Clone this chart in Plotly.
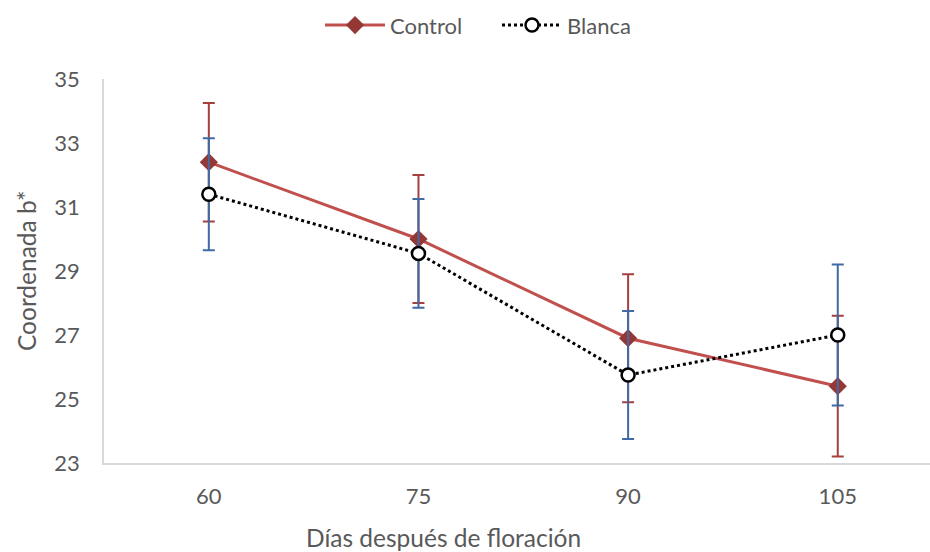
import plotly.graph_objects as go

dias = ["60", "75", "90", "105"]
control = [32.4, 30.0, 26.9, 25.4]
control_err = [1.85, 2.0, 2.0, 2.2]
blanca = [31.4, 29.55, 25.75, 27.0]
blanca_err = [1.75, 1.7, 2.0, 2.2]
y_ticks = [23, 25, 27, 29, 31, 33, 35]

FONT = "Lato"
GRAY = "#595959"

fig = go.Figure()
fig.add_trace(go.Scatter(
    x=dias, y=control, name="Control", mode="lines+markers",
    line=dict(color="#C0504D", width=3),
    marker=dict(symbol="diamond", size=14, color="#953735"),
    error_y=dict(type="data", array=control_err, visible=True,
                 color="#A5403F", thickness=2, width=6),
))
fig.add_trace(go.Scatter(
    x=dias, y=blanca, name="Blanca", mode="lines+markers",
    line=dict(color="black", width=3, dash="dot"),
    marker=dict(symbol="circle", size=13, color="white",
                line=dict(color="black", width=2.5)),
    error_y=dict(type="data", array=blanca_err, visible=True,
                 color="#3F6AA6", thickness=2, width=6),
))

fig.update_layout(
    width=930, height=552,
    margin=dict(l=104, r=0, t=79, b=89, autoexpand=False),
    paper_bgcolor="white", plot_bgcolor="white",
    font=dict(family=FONT, color=GRAY, size=21),
    showlegend=True,
    legend=dict(orientation="h", x=0.4758, xanchor="center",
                y=1.14, yanchor="middle", font=dict(size=22, color=GRAY),
                itemwidth=60, entrywidth=102),
    xaxis=dict(type="category", range=[-0.5, 3.44], showgrid=False,
               showline=True, linecolor="#D9D9D9", linewidth=1.5,
               ticks="", ticklabelstandoff=13,
               tickfont=dict(size=22, color=GRAY), zeroline=False),
    yaxis=dict(range=[23, 35], tickvals=y_ticks, showgrid=False,
               showline=True, linecolor="#D9D9D9", linewidth=1.5,
               ticks="", ticklabelstandoff=18,
               tickfont=dict(size=22, color=GRAY), zeroline=False),
    annotations=[
        dict(text="Días después de floración", xref="paper", yref="paper",
             x=(443 - 104) / 826, y=-(537 - 463) / 384, xanchor="center",
             yanchor="middle", showarrow=False,
             font=dict(size=24.5, color=GRAY, family=FONT)),
        dict(text="Coordenada b*", xref="paper", yref="paper",
             x=(26 - 104) / 826, y=0.5, xanchor="center", yanchor="middle",
             textangle=-90, showarrow=False,
             font=dict(size=24.5, color=GRAY, family=FONT)),
    ],
)

fig.write_html(
    "out.html",
    config={"displayModeBar": False},
    post_script="document.body.style.margin='0';document.body.style.overflow='hidden';",
)
